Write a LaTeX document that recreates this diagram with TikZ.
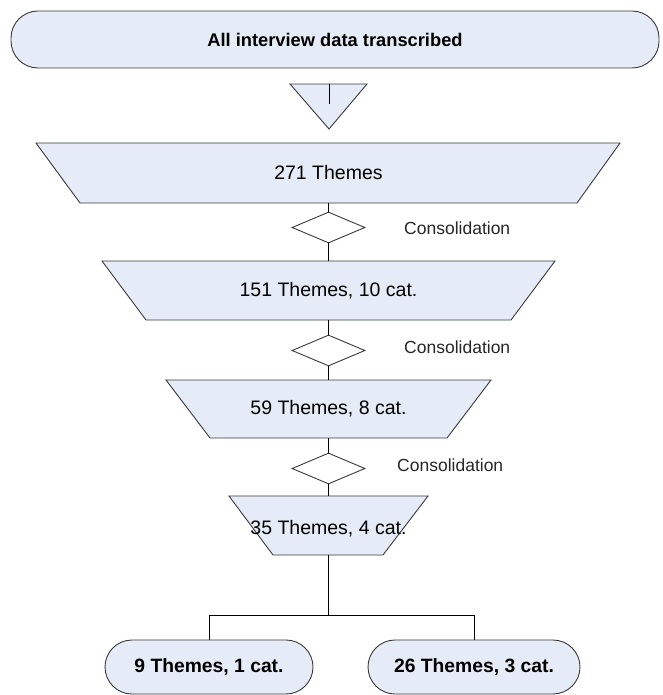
\documentclass[tikz,border=0pt]{standalone}
\usepackage{fontspec}
\setmainfont{Liberation Sans}
\usetikzlibrary{shapes.geometric}
\definecolor{boxfill}{HTML}{E6ECF7}
\definecolor{edge}{HTML}{3A3A3A}
\tikzset{
  shapefill/.style={fill=boxfill, draw=edge, line width=0.9pt, line join=miter},
  termbox/.style={shapefill, rounded corners=27pt, inner sep=0pt, font=\fontsize{18.3}{20}\selectfont\bfseries},
  traptext/.style={inner sep=0pt, minimum height=#1, font=\fontsize{19.5}{21}\selectfont},
  decide/.style={diamond, draw=edge, fill=white, line width=0.9pt, inner sep=0pt, minimum width=73pt, minimum height=31pt, shape aspect=2.35},
  conslabel/.style={anchor=west, inner sep=0pt, font=\fontsize{17.5}{19}\selectfont, text=black!85},
  conn/.style={draw=black, line width=0.9pt}
}
\begin{document}
\begin{tikzpicture}[x=1pt,y=-1pt]
\useasboundingbox (0,0) rectangle (662,695);
% top terminal
\node[termbox, minimum width=648pt, minimum height=57pt] (start) at (335,39.5) {All interview data transcribed};
% triangle
\draw[shapefill] (290,84) -- (367,84) -- (329,129) -- cycle;
\coordinate (tritop) at (329,84);
\coordinate (tristub) at (329,104);
\draw[conn] (tritop) -- (tristub);
% trapezoid 1
\draw[shapefill] (36,143) -- (620,143) -- (577,203) -- (80,203) -- cycle;
\node[traptext=60pt] (t1) at (328.5,173) {271 Themes};
% diamond 1
\node[decide] (d1) at (328.5,227.5) {};
\node[conslabel] (c1) at (404,228) {Consolidation};
% trapezoid 2
\draw[shapefill] (102,261) -- (555,261) -- (511,320) -- (146,320) -- cycle;
\node[traptext=59pt] (t2) at (328.5,290.5) {151 Themes, 10 cat.};
% diamond 2
\node[decide] (d2) at (328.5,350.5) {};
\node[conslabel] (c2) at (404,347) {Consolidation};
% trapezoid 3
\draw[shapefill] (166,380) -- (491,380) -- (447,438) -- (210,438) -- cycle;
\node[traptext=58pt] (t3) at (328.5,409) {59 Themes, 8 cat.};
% diamond 3
\node[decide] (d3) at (328.5,468.5) {};
\node[conslabel] (c3) at (397,465) {Consolidation};
% trapezoid 4
\draw[shapefill] (229,496) -- (428,496) -- (383,555) -- (273,555) -- cycle;
\node[traptext=59pt, yshift=-3pt] (t4) at (328.5,525.5) {35 Themes, 4 cat.};
% bottom terminals
\node[termbox, minimum width=208pt, minimum height=54pt, font=\fontsize{19.3}{21}\selectfont\bfseries] (o1) at (209,667) {9 Themes, 1 cat.};
\node[termbox, minimum width=212pt, minimum height=54pt, font=\fontsize{19.3}{21}\selectfont\bfseries] (o2) at (474,667) {26 Themes, 3 cat.};
% connectors
\draw[conn] (t1.south) -- (d1.north);
\draw[conn] (d1.south) -- (t2.north);
\draw[conn] (t2.south) -- (d2.north);
\draw[conn] (d2.south) -- (t3.north);
\draw[conn] (t3.south) -- (d3.north);
\draw[conn] (d3.south) -- (328.5,496);
\coordinate (branch) at (328.5,615);
\draw[conn] (328.5,555) -- (branch);
\draw[conn] (o1.north) -- (o1.north |- branch) -- (o2.north |- branch) -- (o2.north);
\end{tikzpicture}
\end{document}
